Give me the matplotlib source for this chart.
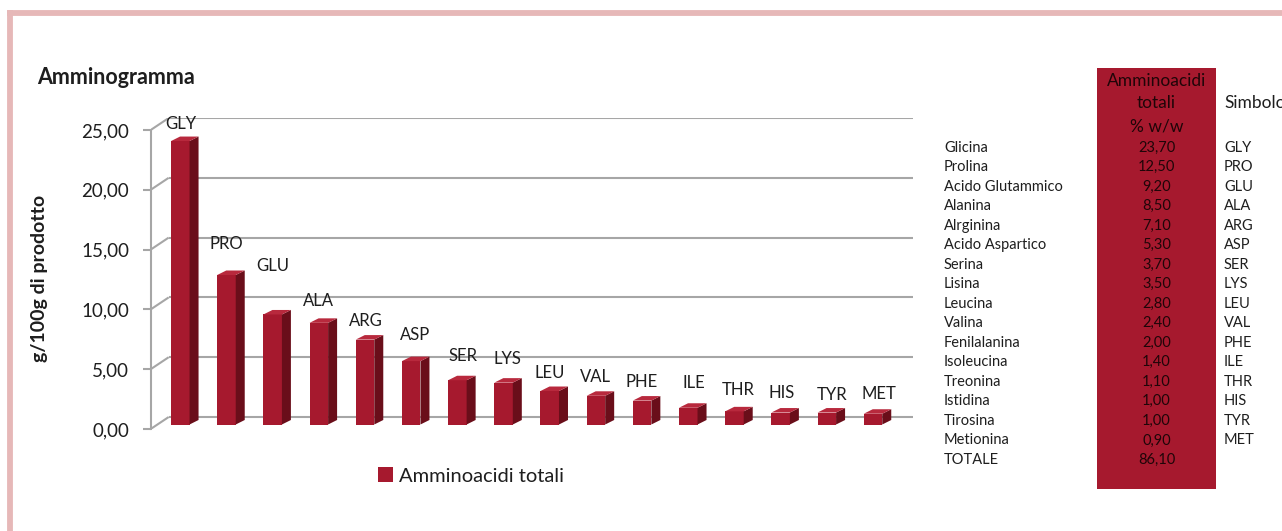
# Amminogramma: istogramma "3D" stile Excel + tabella affiancata
import numpy as np
import matplotlib
matplotlib.use("Agg")
import matplotlib.pyplot as plt
from matplotlib.patches import Polygon, Rectangle
from matplotlib.lines import Line2D

plt.rcParams["font.family"] = ["Lato", "DejaVu Sans"]

# dati
nomi = ["Glicina", "Prolina", "Acido Glutammico", "Alanina", "Alrginina",
        "Acido Aspartico", "Serina", "Lisina", "Leucina", "Valina",
        "Fenilalanina", "Isoleucina", "Treonina", "Istidina", "Tirosina",
        "Metionina"]
simboli = ["GLY", "PRO", "GLU", "ALA", "ARG", "ASP", "SER", "LYS", "LEU",
           "VAL", "PHE", "ILE", "THR", "HIS", "TYR", "MET"]
valori = [23.70, 12.50, 9.20, 8.50, 7.10, 5.30, 3.70, 3.50, 2.80, 2.40,
          2.00, 1.40, 1.10, 1.00, 1.00, 0.90]
totale = 86.10
yticks = [0, 5, 10, 15, 20, 25]

# spostamenti delle etichette (pixel) rispetto alla cima della barra
lift_px = [17, 31, 48, 22, 19, 26, 24, 24, 18, 19, 19, 25, 21, 20, 18, 20]
dx_px = [1, 0, 0, 0, 1, 4, 6, 4, 0, 0, 0, 6, 4, 1, 5, 6]

W, H = 1282, 531
fx = lambda px: px / W
fy = lambda py: 1 - py / H
virgola = lambda v: f"{v:.2f}".replace(".", ",")

ROSSO = "#a6192e"
LATO = "#6a0e1a"
CIMA = "#b8293d"
GRIGIO = "#a6a6a6"
TESTO = "#1e1e1e"

fig = plt.figure(figsize=(W / 100, H / 100), dpi=100)

# cornice rosa
fig.add_artist(Line2D([fx(9.5), fx(9.5)], [fy(13), -0.1], color="#e6b8b8",
                      lw=4.2, solid_capstyle="projecting"))
fig.add_artist(Line2D([fx(9.5), 1.1], [fy(13), fy(13)], color="#e6b8b8",
                      lw=4.2, solid_capstyle="projecting"))

# assi: x in categorie, y in g/100g; scala in pixel per unita'
UX, UY = 46.18, 11.96
ax = fig.add_axes([fx(150.7), fy(429), (913 - 150.7) / W, 311 / H])
ax.set_xlim((150.7 - 180.3) / UX, (913 - 180.3) / UX)
ax.set_ylim(0, 311 / UY)
x = np.arange(len(valori))

base = 4.5 / UY          # base delle barre rispetto all'asse frontale
fondo = 12 / UY          # parete di fondo
x0 = ax.get_xlim()[0]
xb = x0 + 18 / UX
for v in yticks:
    ax.plot([x0, xb], [v, v + fondo], color=GRIGIO, lw=1.5, zorder=1,
            solid_capstyle="butt")
    ax.plot([xb, ax.get_xlim()[1]], [v + fondo, v + fondo], color=GRIGIO,
            lw=1.5, zorder=1, solid_capstyle="butt")

larg = 18.5 / UX
px_d, py_d = 9 / UX, 4.5 / UY
barre = ax.bar(x, valori, width=larg, bottom=base, color=ROSSO, zorder=3,
               label="Amminoacidi totali")
for i, v in enumerate(valori):
    r = i + larg / 2
    l = i - larg / 2
    ax.add_patch(Polygon([(r, base), (r + px_d, base + py_d),
                          (r + px_d, base + v + py_d), (r, base + v)],
                         closed=True, color=LATO, zorder=3, lw=0))
    ax.add_patch(Polygon([(l, base + v), (r, base + v),
                          (r + px_d, base + v + py_d), (l + px_d, base + v + py_d)],
                         closed=True, color=CIMA, zorder=3, lw=0))
    ax.text(i + dx_px[i] / UX, base + v + lift_px[i] / UY, simboli[i],
            ha="center", va="center", fontsize=12, color=TESTO, zorder=4)

# asse frontale
for s in ["top", "right", "bottom"]:
    ax.spines[s].set_visible(False)
ax.spines["left"].set_color(GRIGIO)
ax.spines["left"].set_linewidth(1.5)
ax.spines["left"].set_bounds(0, 25)
ax.set_xticks([])
ax.set_yticks(yticks)
ax.set_yticklabels([virgola(v) for v in yticks])
ax.tick_params(axis="y", length=5.5, width=1.5, color=GRIGIO, pad=10,
               labelsize=13.5, labelcolor=TESTO)
ax.patch.set_alpha(0)

fig.text(fx(37), fy(77), "Amminogramma", fontsize=15.5, fontweight="bold",
         ha="left", va="center", color=TESTO)
fig.text(fx(40), fy(278), "g/100g di prodotto", rotation=90, fontsize=14,
         fontweight="bold", ha="center", va="center", color=TESTO)

fig.legend(handles=[barre], loc="center", bbox_to_anchor=(fx(471), fy(476)),
           frameon=False, fontsize=14.5, handlelength=0.7, handleheight=0.7,
           handletextpad=0.3, labelcolor=TESTO)

# tabella
fig.add_artist(Rectangle((fx(1097), fy(489)), (1216 - 1097) / W,
                         (489 - 68) / H, color=ROSSO, lw=0))
for testo, yy in [("Amminoacidi", 80.5), ("totali", 103), ("% w/w", 126.5)]:
    fig.text(fx(1156.5), fy(yy), testo, fontsize=12.5, ha="center",
             va="center", color="#1f0508")
fig.text(fx(1224), fy(103), "Simbolo", fontsize=12.5, ha="left",
         va="center", color=TESTO)
passo = 19.53
righe = nomi + ["TOTALE"]
numeri = valori + [totale]
for k, (n, v) in enumerate(zip(righe, numeri)):
    yy = 147.5 + k * passo
    fig.text(fx(944), fy(yy), n, fontsize=10.5, ha="left", va="center",
             color=TESTO)
    fig.text(fx(1156.5), fy(yy), virgola(v), fontsize=10.5, ha="center",
             va="center", color="#1f0508")
    if k < len(simboli):
        fig.text(fx(1224), fy(yy), simboli[k], fontsize=10.5, ha="left",
                 va="center", color=TESTO)

fig.savefig("out.png", dpi=100)
